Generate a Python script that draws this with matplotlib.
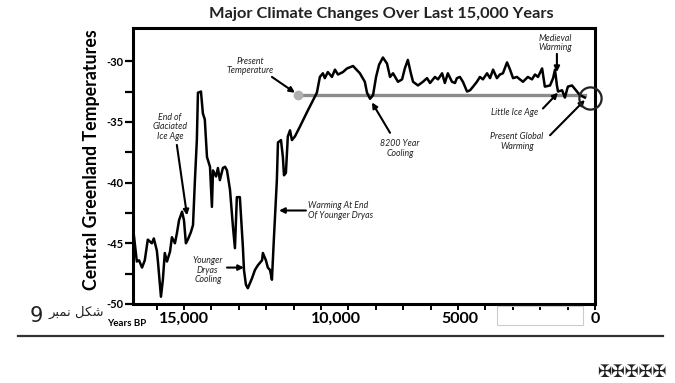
import matplotlib.pyplot as plt
from matplotlib.lines import Line2D
from matplotlib.patches import Rectangle

# Greenland ice-core temperature record (years BP, deg C)
years = [16830, 16720, 16640, 16530, 16430, 16320, 16170, 16100, 15990, 15950,
         15840, 15770, 15700, 15620, 15510, 15440, 15330, 15260, 15180, 15070,
         15000, 14930, 14860, 14750, 14670, 14600, 14530, 14490, 14380, 14310,
         14240, 14160, 14050, 13980, 13940, 13830, 13760, 13690, 13580, 13500,
         13430, 13320, 13210, 13140, 13070, 12960, 12850, 12810, 12740, 12670,
         12520, 12410, 12300, 12150, 12120, 12010, 11940, 11860, 11790, 11720,
         11610, 11570, 11460, 11390, 11350, 11280, 11210, 11130, 11060, 10950,
         10770, 10510, 10330, 10150, 10040, 9930, 9860, 9750, 9600, 9490,
         9380, 9200, 9050, 8830, 8580, 8400, 8320, 8210, 8100, 7990,
         7880, 7740, 7590, 7480, 7370, 7190, 7040, 6940, 6830, 6720,
         6640, 6460, 6280, 6130, 6020, 5840, 5730, 5580, 5480, 5370,
         5220, 5110, 5040, 4930, 4820, 4670, 4560, 4450, 4310, 4200,
         4090, 3940, 3830, 3720, 3580, 3470, 3360, 3210, 3100, 2990,
         2850, 2740, 2630, 2450, 2300, 2190, 2080, 1930, 1830, 1640,
         1530, 1460, 1390, 1350, 1200, 1100, 990, 840, 660, 550, 370]
temps = [-44.3, -46.5, -46.4, -47.0, -46.4, -44.7, -45.0, -44.6, -45.6, -46.5,
         -49.4, -48.0, -45.8, -46.5, -45.7, -44.5, -45.0, -44.2, -43.1, -42.4,
         -43.1, -45.0, -44.7, -44.1, -43.5, -39.8, -36.5, -32.6, -32.5, -34.3,
         -34.8, -37.9, -38.7, -42.0, -39.0, -39.5, -38.8, -39.8, -38.8, -38.7,
         -39.0, -40.6, -43.7, -45.4, -41.2, -41.2, -45.3, -47.2, -48.4, -48.7,
         -47.9, -47.2, -46.8, -46.4, -45.8, -46.4, -47.0, -47.2, -48.0, -44.7,
         -39.8, -36.7, -36.5, -37.9, -39.4, -39.2, -36.2, -35.7, -36.5, -36.2,
         -35.4, -34.2, -33.4, -32.6, -31.3, -31.0, -31.4, -30.9, -31.3, -30.7,
         -31.1, -30.9, -30.6, -30.4, -31.0, -31.7, -32.6, -33.1, -32.8, -31.3,
         -30.3, -29.7, -30.2, -31.3, -31.0, -31.7, -31.5, -30.6, -29.9, -31.0,
         -31.7, -32.0, -31.7, -31.4, -31.8, -31.3, -31.5, -31.0, -31.8, -31.0,
         -31.7, -31.8, -31.4, -31.3, -31.7, -32.5, -32.4, -32.1, -31.7, -31.3,
         -31.5, -31.0, -31.4, -30.7, -31.4, -31.1, -31.0, -30.1, -30.7, -31.4,
         -31.3, -31.5, -31.7, -31.3, -31.5, -31.1, -31.3, -30.6, -32.1, -32.0,
         -31.4, -30.7, -32.0, -32.5, -32.4, -33.0, -32.1, -32.0, -32.5, -32.8, -33.0]

present_years = [10840, 370]
present_temp = -32.8
now_point = (180, -33.0)

ytick_vals = [-30, -35, -40, -45, -50]
xtick_labels = ['15,000', '10,000', '5000', '0']
xtick_label_pos = [15000, 9450, 4930, 0]

# (text, text position, arrow tail, arrow head)
notes = [
    ('Present\nTemperature', (12590, -30.4), (11790, -31.3), (10950, -32.6)),
    ('End of\nGlaciated\nIce Age', (15510, -35.4), (15260, -36.9), (14890, -42.7)),
    ('Younger\nDryas\nCooling', (14130, -47.2), (13430, -47.0), (12810, -47.0)),
    ('8200 Year\nCooling', (7120, -37.2), (7480, -35.9), (8140, -33.4)),
    ('Little Ice Age', (2920, -34.2), (1900, -33.9), (1350, -32.6)),
    ('Present Global\nWarming', (2850, -36.6), (1640, -36.1), (370, -33.2)),
    ('Medieval\nWarming', (1460, -28.5), (1390, -29.4), (1390, -30.9)),
]

W, H = 675, 383
fig = plt.figure(figsize=(W / 100, H / 100), dpi=100)
ax = fig.add_axes([133 / W, 1 - 304 / H, (595 - 133) / W, (304 - 28) / H])

ax.plot(present_years, [present_temp] * 2, color='#8c8c8c', lw=2.4, zorder=2)
ax.plot(present_years[0], present_temp, 'o', color='#b0b0b0', ms=6, zorder=3)
ax.plot(years, temps, color='black', lw=1.8, zorder=4)
ax.plot(*now_point, 'o', ms=16, mfc='none', mec='#222222', mew=1.6, zorder=5,
        clip_on=False)

ax.set_xlim(16860, 0)
ax.set_ylim(-50, -27.27)

for s in ax.spines.values():
    s.set_linewidth(2.2)

ax.set_yticks(ytick_vals)
ax.set_yticklabels([str(v) for v in ytick_vals], fontsize=8, fontweight='bold',
                   family='Lato')
ax.set_yticks([-32.5, -37.5, -42.5, -47.5], minor=True)
ax.tick_params(axis='y', which='both', direction='out', length=6, width=1.6, pad=1)
ax.set_xticks(range(0, 16001, 1000))
ax.set_xticklabels([])
ax.tick_params(axis='x', which='both', direction='out', length=4, width=1.4)

for lab, pos in zip(xtick_labels, xtick_label_pos):
    ax.text(pos, -0.03, lab, transform=ax.get_xaxis_transform(), ha='center',
            va='top', fontsize=11.5, fontweight='bold', family='Lato')
fig.text(107 / W, 1 - 324 / H, 'Years BP', fontsize=7, fontweight='bold',
         family='Lato', va='center')

for txt, tpos, tail, head in notes:
    ax.text(*tpos, txt, ha='center', va='center', fontsize=6.3, style='italic',
            color='#222222', family='Lato', linespacing=1.1)
    ax.annotate('', xy=head, xytext=tail,
                arrowprops=dict(arrowstyle='-|>', color='black', lw=1.5,
                                mutation_scale=8, shrinkA=0, shrinkB=0))
ax.text(10480, -42.3, 'Warming At End\nOf Younger Dryas', ha='left', va='center',
        fontsize=6.3, style='italic', color='#222222', family='Lato',
        linespacing=1.1)
ax.annotate('', xy=(11530, -42.3), xytext=(10550, -42.3),
            arrowprops=dict(arrowstyle='-|>', color='black', lw=1.5,
                            mutation_scale=8, shrinkA=0, shrinkB=0))

fig.text(381 / W, 1 - 14 / H, 'Major Climate Changes Over Last 15,000 Years',
         ha='center', va='center', fontsize=11.8, fontweight='bold', family='Lato',
         color='#222222')
fig.text(92 / W, 1 - 160 / H, 'Central Greenland Temperatures', rotation=90,
         ha='center', va='center', fontsize=12.8, fontweight='bold', family='Lato')

# Urdu caption (presentation forms in visual order)
fig.text(30 / W, 1 - 316 / H, '9', fontsize=15, va='center',
         family='DejaVu Sans', color='#222222')
fig.text(104 / W, 1 - 312 / H, '\uFEAE\uFE92\uFEE4\uFEE7 \uFEDE\uFB91\uFEB7',
         fontsize=9.5, ha='right', va='center', family='DejaVu Sans',
         color='#222222')

fig.add_artist(Line2D([18 / W, 663 / W], [1 - 336 / H, 1 - 336 / H],
                      transform=fig.transFigure, color='#333333', lw=1.6))
fig.add_artist(Rectangle((497 / W, 1 - 325 / H), 86 / W, 19 / H,
                         transform=fig.transFigure, fill=False,
                         edgecolor='#cccccc', lw=0.8))
fig.text(667 / W, 1 - 372 / H, '\u2720\u2720\u2720\u2720\u2720', ha='right',
         va='center', fontsize=12, family='DejaVu Sans', color='#222222')

fig.savefig('out.png', dpi=100)
